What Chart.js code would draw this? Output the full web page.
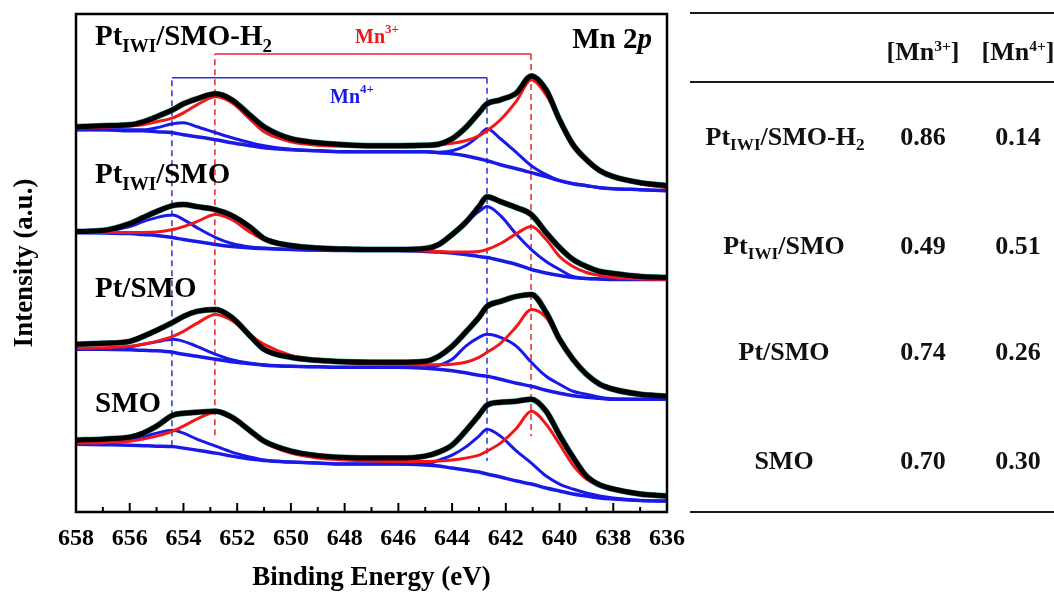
<!DOCTYPE html>
<html>
<head>
<meta charset="utf-8">
<script src="https://cdn.jsdelivr.net/npm/chart.js@4"></script>
<style>
    body { margin: 0; background: #fff; }
    #wrap { position: relative; width: 1054px; height: 595px; }
    .rule { position: absolute; left: 690px; width: 364px; height: 2px; background: #1a1a1a; }
    .cell {
        position: absolute;
        transform: translate(-50%, -50%);
        font: bold 26px "Liberation Serif", "Times New Roman", serif;
        white-space: nowrap;
        line-height: 1;
        color: #111;
    }
    .cell sub { font-size: 0.66em; vertical-align: -0.28em; line-height: 0; }
    .cell sup { font-size: 0.6em; vertical-align: 0.55em; line-height: 0; }
</style>
</head>
<body>
<div id="wrap">
    <canvas id="chart" width="1054" height="595"></canvas>

    <div class="rule" style="top:12px"></div>
    <div class="rule" style="top:81px"></div>
    <div class="rule" style="top:511px"></div>

    <div class="cell" style="left:923px;top:52px">[Mn<sup>3+</sup>]</div>
    <div class="cell" style="left:1018px;top:52px">[Mn<sup>4+</sup>]</div>

    <div class="cell" style="left:785px;top:137px">Pt<sub>IWI</sub>/SMO-H<sub>2</sub></div>
    <div class="cell" style="left:923px;top:137px">0.86</div>
    <div class="cell" style="left:1018px;top:137px">0.14</div>

    <div class="cell" style="left:784px;top:246px">Pt<sub>IWI</sub>/SMO</div>
    <div class="cell" style="left:923px;top:246px">0.49</div>
    <div class="cell" style="left:1018px;top:246px">0.51</div>

    <div class="cell" style="left:784px;top:352px">Pt/SMO</div>
    <div class="cell" style="left:923px;top:352px">0.74</div>
    <div class="cell" style="left:1018px;top:352px">0.26</div>

    <div class="cell" style="left:784px;top:461px">SMO</div>
    <div class="cell" style="left:923px;top:461px">0.70</div>
    <div class="cell" style="left:1018px;top:461px">0.30</div>
</div>

<script>
// binding energy grid (eV)
const energies = [658, 657, 656, 655.5, 655, 654.4, 654, 653.5, 652.8, 652.2, 651.5, 651, 650, 649, 648, 647, 646, 645,
    644.5, 644, 643.5, 643, 642.7, 642.2, 641.6, 641.05, 640.5, 640, 639.5, 639, 638.5, 638, 637, 636];

// Pt_IWI/SMO-H2 (top, offset spectrum)
const h2Envelope = [386, 387, 388, 391, 396, 403, 409, 414, 419, 413, 397, 386, 374, 370, 368, 367, 367, 367.5,
    368.5, 374, 385, 400, 409, 413, 420, 437, 423, 393, 368, 353, 342, 336, 330, 327];
const h2Mn3 = [385, 385.5, 387, 388, 391, 395, 400, 408, 416, 410, 393, 381, 371, 367.5, 366.5, 366, 366, 367,
    368, 369.5, 372, 377, 382, 393, 412, 433, 418, 393, 370, 353, 343, 336, 329, 325];
const h2Mn4 = [383, 383, 383, 383, 385, 389, 390, 386, 380, 375, 370, 367, 363.5, 362, 361, 361, 361, 361,
    360.5, 362, 367, 377, 384, 374, 360, 347, 338, 332, 329, 327, 325, 324, 323, 322];
const h2Background = [383, 383, 382, 382, 381, 380, 378, 376, 373, 370, 367, 365, 363, 362, 361, 361, 361, 361,
    360, 359, 357, 354, 352, 348, 344, 340, 336, 332, 329, 327, 325, 324, 323, 322];

// Pt_IWI/SMO
const iwiEnvelope = [281, 282, 289, 295, 301, 307, 308, 306, 303, 297, 285, 274, 267, 264.5, 263.5, 263, 263, 264,
    268, 278, 290, 306, 316, 311, 305, 298, 280, 265, 253, 246, 241, 239, 236, 235];
const iwiMn3 = [280, 280, 280, 280, 280.5, 283, 286, 291, 298, 293, 280, 273, 267, 264.5, 263.5, 263, 262.5, 261.5,
    261, 260.5, 260.5, 261, 263, 269, 279, 286, 273, 256, 246, 240, 237, 235, 233.5, 233];
const iwiMn4 = [280, 281, 286, 291, 295, 297.5, 293, 285, 275, 269, 265.5, 264.5, 263, 262.5, 262, 262, 262, 262,
    267, 278, 290, 301, 306, 297, 278, 263, 251, 243, 236, 234, 233.5, 233, 233, 233];
const iwiBackground = [280, 279.5, 279, 278, 277, 275, 273, 271, 268, 266, 264.5, 264, 263, 262.5, 262, 262, 262, 261,
    260.5, 259.5, 258, 256, 255, 252, 248, 243, 239.5, 237, 235, 234, 233.5, 233, 233, 233];

// Pt/SMO
const ptEnvelope = [168, 169, 171, 176, 182, 190, 196, 201, 203, 195, 176, 163, 155, 152, 150.5, 150, 150, 151,
    156, 166, 180, 195, 206, 211, 216, 218, 200, 173, 153, 138, 128, 123, 118, 116];
const ptMn3 = [164, 164.5, 166, 168, 171, 176, 181, 189, 198, 192, 177, 168, 157, 152, 149.5, 148.5, 148, 147.5,
    147.5, 148, 150, 155, 160, 169, 186, 203, 195, 173, 153, 138, 128, 123, 118, 116];
const ptMn4 = [163, 163.5, 165.5, 168, 170.5, 173, 171, 166, 158, 152.5, 149, 147.5, 146, 145.5, 145, 145, 145, 144.5,
    147, 153, 166, 175, 178, 175, 166, 150, 136, 128, 121, 118, 115, 113.5, 113, 113];
const ptBackground = [163, 163, 162.5, 162, 161.5, 160, 158, 156, 153, 150.5, 148.5, 147, 146, 145.5, 145, 145, 145, 144,
    143, 141.5, 139.5, 137, 136, 133, 129, 126, 122, 119, 116.5, 115, 114, 113, 113, 113];

// SMO
const smoEnvelope = [72, 73, 75, 79, 86, 97, 99, 100, 101, 95, 81, 71, 61, 56.5, 54.5, 54, 54, 56,
    60, 67, 81, 97, 107, 110, 111, 113, 101, 77, 55, 36, 27, 23, 18, 16];
const smoMn3 = [69, 69.5, 71, 73, 76, 81, 86, 93, 100, 94, 80, 70, 59, 54, 52, 51, 50.5, 50.5,
    51, 52, 54, 57, 61, 69, 84, 101, 88, 68, 47, 33, 27, 23, 18, 15];
const smoMn4 = [68, 69, 72, 75, 79, 82, 79, 73, 66, 60, 55, 52, 50, 49, 48, 48, 48, 47.5,
    52, 57, 65, 76, 83, 76, 61, 49, 36, 28, 23, 19, 16, 14, 11.5, 11];
const smoBackground = [68, 67.5, 67, 66.5, 66, 65.5, 64, 62, 59, 56, 53, 51.5, 50, 49, 48, 48, 48, 47,
    46, 44, 42, 40, 38, 35, 31, 28, 24, 21, 18, 16, 14, 13, 11.5, 11];

// Mn3+ / Mn4+ peak markers (bracket + dashed drops)
const mn3MarkerEnergy = [652.83, 652.83, 641.06, 641.06];
const mn3MarkerLevel = [77, 459, 459, 76];
const mn4MarkerEnergy = [654.43, 654.43, 642.7, 642.7];
const mn4MarkerLevel = [66, 435, 435, 51];

// axis
const xTickValues = [636, 637, 638, 639, 640, 641, 642, 643, 644, 645, 646, 647, 648, 649, 650, 651, 652, 653, 654, 655, 656, 657, 658];

const FONT = '"Liberation Serif", "Times New Roman", serif';
const RED = '#f01818';
const BLUE = '#1a1ae8';

function pts(values) {
    return energies.map((e, i) => ({ x: e, y: values[i] }));
}

function spectrum(envelope, mn3, mn4, background) {
    const base = { pointRadius: 0, fill: false, cubicInterpolationMode: 'monotone' };
    return [
        { ...base, data: pts(background), borderColor: BLUE, borderWidth: 3.5, order: 5 },
        { ...base, data: pts(mn4), borderColor: BLUE, borderWidth: 3, order: 4 },
        { ...base, data: pts(mn3), borderColor: RED, borderWidth: 3, order: 3 },
        { ...base, data: pts(envelope), borderColor: 'rgba(20,128,120,0.85)', borderWidth: 6, order: 6 },
        { ...base, data: pts(envelope), borderColor: '#000', borderWidth: 5, order: 1 }
    ];
}

// bracket: left drop (dashed), top bar (solid), right drop (dashed)
function marker(energy, level, color) {
    const line = (a, b, dash) => ({
        data: [{ x: energy[a], y: level[a] }, { x: energy[b], y: level[b] }],
        borderColor: color,
        borderWidth: 1.5,
        borderDash: dash,
        pointRadius: 0,
        tension: 0,
        order: 10
    });
    return [line(0, 1, [6, 4]), line(1, 2, []), line(2, 3, [6, 4])];
}

// rich text: parts with own size / offset (sub- and superscripts)
function drawRich(ctx, x, y, parts, color, alignRight) {
    ctx.save();
    ctx.fillStyle = color;
    ctx.textBaseline = 'alphabetic';
    ctx.textAlign = 'left';
    const fontOf = p => (p.italic ? 'italic ' : '') + 'bold ' + p.size + 'px ' + FONT;
    let total = 0;
    parts.forEach(p => { ctx.font = fontOf(p); total += ctx.measureText(p.t).width; });
    if (alignRight) x -= total;
    parts.forEach(p => {
        ctx.font = fontOf(p);
        ctx.fillText(p.t, x, y + (p.dy || 0));
        x += ctx.measureText(p.t).width;
    });
    ctx.restore();
}

const framePlugin = {
    id: 'frame',
    afterDatasetsDraw(chart) {
        const { ctx, chartArea: a, scales: { x } } = chart;
        ctx.save();
        ctx.strokeStyle = '#000';
        // inward ticks on the bottom axis
        ctx.lineWidth = 2;
        xTickValues.forEach(v => {
            const px = x.getPixelForValue(v);
            const len = v % 2 === 0 ? 9 : 5;
            ctx.beginPath();
            ctx.moveTo(px, a.bottom);
            ctx.lineTo(px, a.bottom - len);
            ctx.stroke();
        });
        ctx.lineWidth = 2.5;
        ctx.strokeRect(a.left, a.top, a.right - a.left, a.bottom - a.top);
        ctx.restore();

        const big = 29, sub = 19;
        drawRich(ctx, 95, 45, [
            { t: 'Pt', size: big }, { t: 'IWI', size: sub, dy: 7 },
            { t: '/SMO-H', size: big }, { t: '2', size: sub, dy: 7 }
        ], '#000');
        drawRich(ctx, 95, 183, [
            { t: 'Pt', size: big }, { t: 'IWI', size: sub, dy: 7 }, { t: '/SMO', size: big }
        ], '#000');
        drawRich(ctx, 95, 297, [{ t: 'Pt/SMO', size: big }], '#000');
        drawRich(ctx, 95, 412, [{ t: 'SMO', size: big }], '#000');
        drawRich(ctx, 652, 48, [{ t: 'Mn 2', size: big }, { t: 'p', size: big, italic: true }], '#000', true);

        drawRich(ctx, 355, 43, [{ t: 'Mn', size: 20 }, { t: '3+', size: 13, dy: -10 }], RED);
        drawRich(ctx, 330, 103, [{ t: 'Mn', size: 20 }, { t: '4+', size: 13, dy: -10 }], BLUE);
    }
};

const datasets = [
    ...spectrum(h2Envelope, h2Mn3, h2Mn4, h2Background),
    ...spectrum(iwiEnvelope, iwiMn3, iwiMn4, iwiBackground),
    ...spectrum(ptEnvelope, ptMn3, ptMn4, ptBackground),
    ...spectrum(smoEnvelope, smoMn3, smoMn4, smoBackground),
    ...marker(mn3MarkerEnergy, mn3MarkerLevel, '#e8262e'),
    ...marker(mn4MarkerEnergy, mn4MarkerLevel, '#3030e0')
];

new Chart(document.getElementById('chart'), {
    type: 'line',
    data: { datasets },
    options: {
        responsive: false,
        animation: false,
        devicePixelRatio: 1,
        layout: { padding: { top: 14, right: 387, left: 0, bottom: 0 } },
        plugins: { legend: { display: false }, tooltip: { enabled: false } },
        scales: {
            x: {
                type: 'linear',
                reverse: true,
                min: 636,
                max: 658,
                afterFit: scale => { scale.height = 83; },
                grid: { display: false, drawTicks: false },
                border: { display: false },
                ticks: {
                    stepSize: 2,
                    autoSkip: false,
                    maxRotation: 0,
                    padding: 12,
                    color: '#000',
                    font: { family: FONT, size: 24, weight: 'bold' }
                },
                title: {
                    display: true,
                    text: 'Binding Energy (eV)',
                    color: '#000',
                    font: { family: FONT, size: 27, weight: 'bold' },
                    padding: { top: 0, bottom: 1 }
                }
            },
            y: {
                min: 0,
                max: 499,
                afterFit: scale => { scale.width = 76; },
                grid: { display: false, drawTicks: false },
                border: { display: false },
                ticks: { display: false },
                title: {
                    display: true,
                    text: 'Intensity (a.u.)',
                    color: '#000',
                    font: { family: FONT, size: 27, weight: 'bold' },
                    padding: { top: 9, bottom: 0 }
                }
            }
        }
    },
    plugins: [framePlugin]
});
</script>
</body>
</html>
